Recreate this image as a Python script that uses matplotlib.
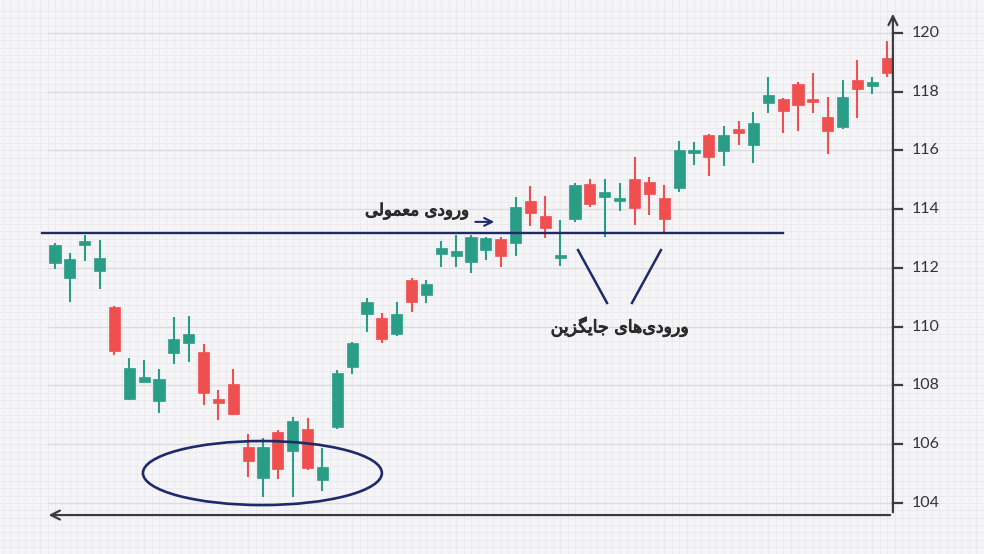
import numpy as np
import matplotlib.pyplot as plt
import matplotlib.patheffects as pe
from matplotlib.patches import Ellipse, Rectangle

# candle values (open, high, low, close)
opens = [112.17, 111.66, 112.78, 111.90, 110.67, 107.54, 108.12, 107.47, 109.11, 109.45,
         109.14, 107.54, 108.05, 105.91, 104.85, 106.42, 105.77, 106.52, 104.78, 106.59,
         108.63, 110.43, 110.30, 109.75, 111.59, 111.08, 112.48, 112.41, 112.20, 112.61,
         112.99, 112.85, 114.28, 113.77, 112.34, 113.67, 114.86, 114.42, 114.28, 115.03,
         114.93, 114.38, 114.72, 115.91, 116.53, 115.98, 116.73, 116.19, 117.62, 117.75,
         118.26, 117.72, 117.14, 116.80, 118.40, 118.20, 119.15]
highs = [112.85, 112.51, 113.12, 112.95, 110.70, 108.94, 108.87, 108.56, 110.33, 110.37,
         109.41, 107.85, 108.56, 106.35, 106.21, 106.49, 106.93, 106.89, 105.87, 108.53,
         109.47, 110.98, 110.47, 110.84, 111.66, 111.59, 112.92, 113.12, 113.12, 113.05,
         113.06, 114.42, 114.79, 114.45, 113.63, 114.89, 115.03, 115.03, 114.89, 115.78,
         115.10, 114.83, 116.32, 116.29, 116.56, 116.83, 117.00, 117.31, 118.50, 117.80,
         118.33, 118.64, 117.82, 118.40, 119.08, 118.50, 119.73]
lows = [111.97, 110.84, 112.24, 111.29, 109.04, 107.51, 108.09, 107.06, 108.73, 108.80,
        107.34, 106.83, 107.00, 104.89, 104.20, 104.82, 104.20, 105.12, 104.41, 106.52,
        108.39, 109.82, 109.45, 109.69, 110.50, 110.81, 112.03, 112.03, 111.83, 112.27,
        112.03, 112.41, 113.43, 113.02, 112.07, 113.57, 114.08, 113.06, 113.94, 113.46,
        113.80, 113.19, 114.59, 115.51, 115.13, 115.47, 116.19, 115.57, 117.28, 116.60,
        116.66, 117.28, 115.88, 116.73, 117.11, 117.92, 118.50]
closes = [112.78, 112.31, 112.92, 112.34, 109.17, 108.60, 108.29, 108.22, 109.58, 109.75,
          107.74, 107.40, 107.03, 105.43, 105.91, 105.16, 106.79, 105.19, 105.23, 108.43,
          109.45, 110.84, 109.58, 110.43, 110.84, 111.46, 112.68, 112.58, 113.06, 113.02,
          112.41, 114.08, 113.87, 113.36, 112.44, 114.83, 114.18, 114.59, 114.35, 114.04,
          114.52, 113.67, 116.02, 116.02, 115.78, 116.53, 116.60, 116.94, 117.89, 117.34,
          117.55, 117.65, 116.66, 117.82, 118.09, 118.33, 118.64]

y_ticks = [104, 106, 108, 110, 112, 114, 116, 118, 120]
level = 113.19
label_usual = "ورودی معمولی"
label_alt = "ورودی\u200cهای جایگزین"

GREEN = '#2a9d86'
RED = '#ef4f4f'
NAVY = '#1f2a6a'
AXIS = '#3c3c3c'

# simple persian shaping: matplotlib does not join arabic letters by itself
FORMS = {
    'و': (0xFEED, 0xFEEE), 'ر': (0xFEAD, 0xFEAE), 'د': (0xFEA9, 0xFEAA),
    'ا': (0xFE8D, 0xFE8E), 'ز': (0xFEAF, 0xFEB0),
    'ی': (0xFBFC, 0xFBFD, 0xFBFE, 0xFBFF), 'ع': (0xFEC9, 0xFECA, 0xFECB, 0xFECC),
    'م': (0xFEE1, 0xFEE2, 0xFEE3, 0xFEE4), 'ل': (0xFEDD, 0xFEDE, 0xFEDF, 0xFEE0),
    'ه': (0xFEE9, 0xFEEA, 0xFEEB, 0xFEEC), 'ج': (0xFE9D, 0xFE9E, 0xFE9F, 0xFEA0),
    'گ': (0xFB92, 0xFB93, 0xFB94, 0xFB95), 'ن': (0xFEE5, 0xFEE6, 0xFEE7, 0xFEE8),
}


def shape(s):
    out = []
    for k, ch in enumerate(s):
        if ch not in FORMS:
            out.append(ch)
            continue
        prev = s[k - 1] if k > 0 else ''
        nxt = s[k + 1] if k + 1 < len(s) else ''
        jp = prev in FORMS and len(FORMS[prev]) == 4
        jn = len(FORMS[ch]) == 4 and nxt in FORMS
        f = FORMS[ch]
        if len(f) == 2:
            idx = 1 if jp else 0
        else:
            idx = 3 if (jp and jn) else 1 if jp else 2 if jn else 0
        out.append(chr(f[idx]))
    return ''.join(c for c in reversed(out) if c != '\u200c')


fig = plt.figure(figsize=(9.84, 5.54), dpi=100, facecolor='#f5f5f7')
ax = fig.add_axes([0, 0, 1, 1])
ax.set_facecolor('#f5f5f7')
# pixel -> data mapping: x = 55 + 14.86*i, y = 503 - (v-104)*29.375
ax.set_xlim(-3.70, 62.52)
ax.set_ylim(102.264, 121.123)
for s in ax.spines.values():
    s.set_visible(False)
ax.set_xticks([])
ax.set_yticks([])

# faint paper grid
for gx in np.arange(-3.5, 62.5, 0.5):
    ax.axvline(gx, color='#eaeaee', lw=0.6, zorder=0)
for gy in np.arange(102.5, 121.0, 0.25):
    ax.axhline(gy, color='#eaeaee', lw=0.6, zorder=0)
for t in y_ticks:
    ax.plot([-0.5, 56.39], [t, t], color='#dcdce0', lw=1.0, zorder=0.5)

# candles
x = np.arange(len(opens))
w = 0.75
for i in x:
    o, h, l, c = opens[i], highs[i], lows[i], closes[i]
    col = GREEN if c >= o else RED
    ax.plot([i, i], [l, h], color=col, lw=1.5, zorder=3, solid_capstyle='butt')
    lo = min(o, c)
    hgt = max(abs(c - o), 0.1)
    ax.add_patch(Rectangle((i - w / 2, lo), w, hgt, facecolor=col, edgecolor=col, lw=0.5, zorder=4))

# level line
ax.plot([-0.87, 48.99], [level, level], color=NAVY, lw=1.7, zorder=5)

# axes with arrows
axis_x = 56.39
axis_y = 103.59
ax.annotate('', xy=(axis_x, 120.75), xytext=(axis_x, axis_y),
            arrowprops=dict(arrowstyle='->', color=AXIS, lw=1.6, mutation_scale=16), zorder=6)
ax.annotate('', xy=(-0.62, axis_y), xytext=(axis_x, axis_y),
            arrowprops=dict(arrowstyle='->', color=AXIS, lw=1.6, mutation_scale=16), zorder=6)
for t in y_ticks:
    ax.plot([axis_x, axis_x + 0.62], [t, t], color=AXIS, lw=1.6, zorder=6)
    ax.text(axis_x + 1.25, t, str(t), ha='left', va='center', fontsize=11.5,
            family='Lato', color='#333333')

# ellipse around the bottom
ax.add_patch(Ellipse((13.96, 105.02), 16.08, 2.18, fill=False, edgecolor=NAVY, lw=1.9, zorder=6))

# annotations, slightly thickened to look like the medium-weight persian font
thick = [pe.withStroke(linewidth=0.7, foreground='#2b2b2b')]
ax.text(24.35, 113.95, shape(label_usual), ha='center', va='center', fontsize=12,
        family=['DejaVu Sans'], color='#2b2b2b', zorder=7, path_effects=thick)
ax.annotate('', xy=(29.75, 113.57), xytext=(28.1, 113.57),
            arrowprops=dict(arrowstyle='->', color=NAVY, lw=1.5, mutation_scale=14), zorder=7)
ax.plot([35.2, 37.15], [112.61, 110.81], color=NAVY, lw=1.8, zorder=7)
ax.plot([40.78, 38.83], [112.61, 110.81], color=NAVY, lw=1.8, zorder=7)
ax.text(38.0, 109.99, shape(label_alt), ha='center', va='center', fontsize=12.5,
        family=['DejaVu Sans'], color='#2b2b2b', zorder=7, path_effects=thick)

fig.savefig('out.png', dpi=100, facecolor=fig.get_facecolor())
